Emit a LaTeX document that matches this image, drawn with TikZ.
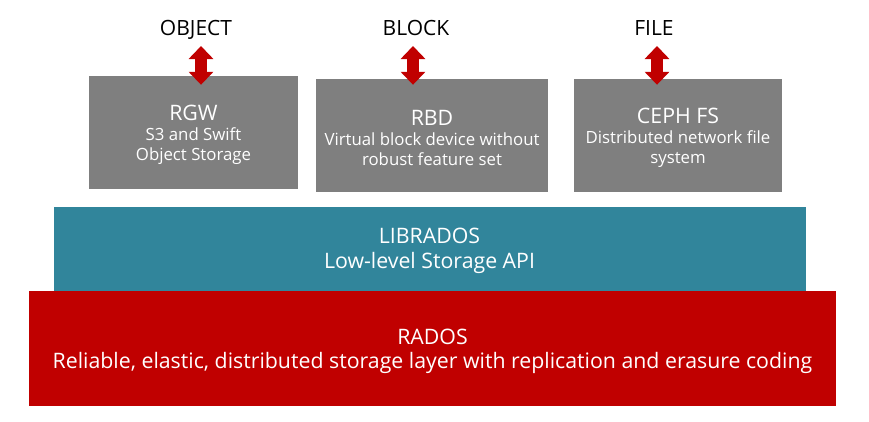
\documentclass[tikz,border=0pt]{standalone}
\usepackage{fontspec}
\setmainfont{Open Sans}
\usetikzlibrary{arrows.meta}
\definecolor{cephgray}{RGB}{127,127,127}
\definecolor{cephteal}{RGB}{49,133,155}
\definecolor{cephred}{RGB}{192,0,0}
\newcommand{\toppad}[1]{\rule{0pt}{#1}}

\begin{document}
\begin{tikzpicture}[x=1pt, y=-1pt,
    tier/.style={rectangle, inner sep=0pt, text=white, align=center},
    gwbox/.style={tier, fill=cephgray, minimum height=113pt, font=\fontsize{16.8}{20}\selectfont},
    iface/.style={font=\fontsize{21}{24}\selectfont, inner sep=0pt},
    dblarrow/.style={cephred, line width=12pt, {Triangle[width=24pt,length=13pt]}-{Triangle[width=24pt,length=13pt]}}]
      \useasboundingbox (0,0) rectangle (869,421);

      % Gateway layer
      \node [gwbox, minimum width=209pt] (rgw) at (193.5,132.5) {
        \toppad{19.5pt}{\fontsize{21.3}{24}\selectfont RGW}\\[0pt]
        S3 and Swift\\
        Object Storage
      };
      \node [gwbox, minimum width=232pt] (rbd) at (432,135.5) {
        \toppad{19.5pt}{\fontsize{21.3}{24}\selectfont RBD}\\[0pt]
        Virtual block device without\\
        robust feature set
      };
      \node [gwbox, minimum width=208pt] (cephfs) at (678,135.5) {
        \toppad{19.5pt}{\fontsize{21.3}{24}\selectfont CEPH FS}\\[0pt]
        Distributed network file\\
        system
      };

      % Library layer
      \node [tier, fill=cephteal, minimum width=752pt, minimum height=84pt, font=\fontsize{21.3}{25}\selectfont] (librados) at (429.5,249) {
        \toppad{19.5pt}LIBRADOS\\
        Low-level Storage API
      };

      % Object store layer
      \node [tier, fill=cephred, minimum width=807pt, minimum height=115pt, font=\fontsize{21.3}{24}\selectfont] (rados) at (432.5,348.5) {
        \toppad{21.5pt}RADOS\\
        Reliable, elastic, distributed storage layer with replication and erasure coding
      };

      % Interfaces
      \node [iface, anchor=base] (object) at (196,35) {OBJECT};
      \node [iface, anchor=base] (block) at (416,35) {BLOCK};
      \node [iface, anchor=base] (file) at (654,35) {FILE};

      % Arrows
      \draw [dblarrow] ([xshift=5pt, yshift=-11pt]object.base) -- ([xshift=5pt, yshift=-9pt]object.base |- rgw.north);
      \draw [dblarrow] ([xshift=-3pt, yshift=-11pt]block.base) -- ([xshift=-3pt, yshift=-6pt]block.base |- rbd.north);
      \draw [dblarrow] ([xshift=3pt, yshift=-11pt]file.base) -- ([xshift=3pt, yshift=-6pt]file.base |- cephfs.north);
\end{tikzpicture}
\end{document}
